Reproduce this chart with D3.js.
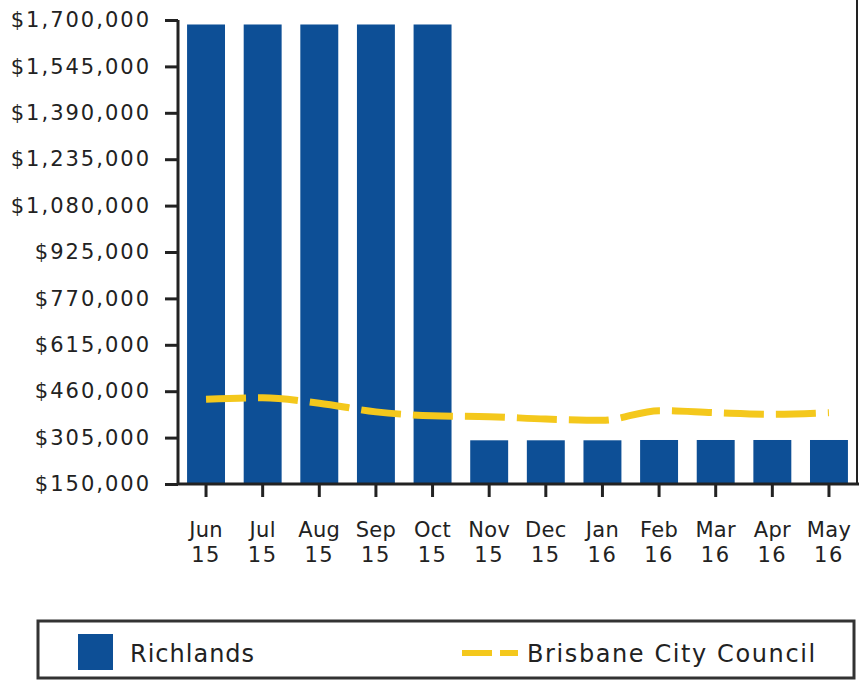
<!DOCTYPE html>
<html><head><meta charset="utf-8">
<script src="https://cdn.jsdelivr.net/npm/d3@7"></script>
<style>body{margin:0;background:#fff;}svg{display:block;}</style>
</head><body><svg id="c" width="861" height="683"></svg>
<script>
const months = ["Jun","Jul","Aug","Sep","Oct","Nov","Dec","Jan","Feb","Mar","Apr","May"];
const years = ["15","15","15","15","15","15","15","16","16","16","16","16"];
const richlands = [1685000,1685000,1685000,1685000,1685000,296000,296000,296000,297000,297000,297000,297000];
const brisbane = [433000,438000,420000,391000,378000,375000,367000,363000,395000,388000,383000,388000];
const yTicks = [150000,305000,460000,615000,770000,925000,1080000,1235000,1390000,1545000,1700000];

const svg = d3.select("#c");
const L=178,R=857,T=20,B=484;
const x = d3.scaleBand().domain(d3.range(12)).range([L,R]).paddingInner(0.33).paddingOuter(0.16);
const y = d3.scaleLinear().domain([150000,1700000]).range([B,T]);
const font = "DejaVu Sans, Verdana, sans-serif";
const blue="#0d4f96", yellow="#f4c81c", ink="#222";

// bars
svg.append("g").selectAll("rect").data(richlands).join("rect")
  .attr("x",(d,i)=>x(i)).attr("width",x.bandwidth())
  .attr("y",d=>y(d)).attr("height",d=>B-y(d)).attr("fill",blue);

// line
const line = d3.line().x((d,i)=>x(i)+x.bandwidth()/2).y(d=>y(d)).curve(d3.curveMonotoneX);
svg.append("path").datum(brisbane).attr("d",line).attr("fill","none")
  .attr("stroke",yellow).attr("stroke-width",7).attr("stroke-dasharray","40,12");

// y axis
const ya = svg.append("g").attr("transform",`translate(${L},0)`)
  .call(d3.axisLeft(y).tickValues(yTicks).tickSize(13).tickPadding(14)
    .tickFormat(d=>"$"+d3.format(",")(d)));
ya.select(".domain").attr("stroke",ink).attr("stroke-width",3).attr("d",`M0,${T}V${B}`);
ya.selectAll(".tick line").attr("stroke",ink).attr("stroke-width",3);
ya.selectAll(".tick text").attr("font-family",font).attr("font-size",21).attr("letter-spacing",2).attr("fill",ink);

// x axis
const xa = svg.append("g").attr("transform",`translate(0,${B})`)
  .call(d3.axisBottom(x).tickSize(13).tickFormat(""));
xa.select(".domain").attr("stroke",ink).attr("stroke-width",3).attr("d",`M${L},0H${R+2}`);
xa.selectAll(".tick line").attr("stroke",ink).attr("stroke-width",3);
xa.selectAll(".tick").each(function(d){
  const g=d3.select(this);
  g.append("text").attr("y",53).attr("text-anchor","middle").attr("font-family",font)
    .attr("font-size",21).attr("letter-spacing",0.3).attr("fill",ink).text(months[d]);
  g.append("text").attr("y",78).attr("text-anchor","middle").attr("font-family",font)
    .attr("font-size",21).attr("letter-spacing",1.5).attr("fill",ink).text(years[d]);
});

// right border
svg.append("line").attr("x1",R).attr("x2",R).attr("y1",0).attr("y2",B).attr("stroke",ink).attr("stroke-width",2);

// legend
const lg = svg.append("g");
lg.append("rect").attr("x",38).attr("y",621).attr("width",816).attr("height",57)
  .attr("fill","#fff").attr("stroke","#333").attr("stroke-width",3);
lg.append("rect").attr("x",78).attr("y",634).attr("width",35).attr("height",36).attr("fill",blue);
lg.append("text").attr("x",130).attr("y",662).attr("font-family",font).attr("font-size",24)
  .attr("letter-spacing",1).attr("fill",ink).text("Richlands");
lg.append("line").attr("x1",462).attr("x2",518).attr("y1",653).attr("y2",653)
  .attr("stroke",yellow).attr("stroke-width",6).attr("stroke-dasharray","30,8");
lg.append("text").attr("x",527).attr("y",662).attr("font-family",font).attr("font-size",24)
  .attr("letter-spacing",1.6).attr("fill",ink).text("Brisbane City Council");
</script></body></html>
